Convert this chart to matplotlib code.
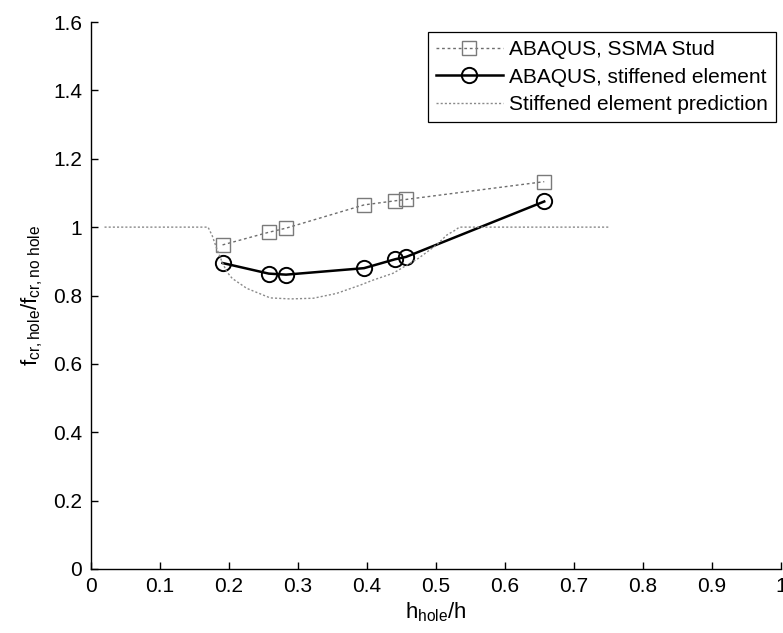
import matplotlib
matplotlib.use("Agg")
import matplotlib.pyplot as plt
from matplotlib.ticker import FuncFormatter

plt.rcParams['font.family'] = ['Liberation Sans', 'DejaVu Sans']
plt.rcParams['mathtext.fontset'] = 'custom'
plt.rcParams['mathtext.rm'] = 'Liberation Sans'
plt.rcParams['mathtext.it'] = 'Liberation Sans'

# Data
hole_ratio = [0.191, 0.258, 0.283, 0.396, 0.441, 0.457, 0.657]
ssma_stud = [0.948, 0.985, 0.997, 1.065, 1.077, 1.081, 1.133]
stiffened_element = [0.895, 0.864, 0.861, 0.880, 0.906, 0.913, 1.075]

pred_x = [0.02, 0.17, 0.176, 0.183, 0.19, 0.197, 0.205, 0.226, 0.26, 0.289,
          0.3225, 0.356, 0.39, 0.409, 0.438, 0.475, 0.501, 0.516, 0.528, 0.534, 0.75]
pred_y = [1.0, 1.0, 0.975, 0.935, 0.9, 0.87, 0.85, 0.821, 0.793, 0.79,
          0.792, 0.806, 0.83, 0.845, 0.865, 0.909, 0.948, 0.977, 0.991, 1.0, 1.0]

x_ticks = [0, 0.1, 0.2, 0.3, 0.4, 0.5, 0.6, 0.7, 0.8, 0.9, 1.0]
y_ticks = [0, 0.2, 0.4, 0.6, 0.8, 1.0, 1.2, 1.4, 1.6]

fig = plt.figure(figsize=(7.83, 6.33), dpi=100)
ax = fig.add_axes([90.7 / 783, 64 / 633, 690.3 / 783, 547 / 633])

ax.plot(hole_ratio, ssma_stud, color='#6e6e6e', linestyle=(0, (2, 2)), linewidth=1.0,
        marker='s', markersize=10, markerfacecolor='none', markeredgecolor='#7a7a7a',
        markeredgewidth=1.0, label='ABAQUS, SSMA Stud')
ax.plot(hole_ratio, stiffened_element, color='black', linestyle='-', linewidth=1.8,
        marker='o', markersize=11, markerfacecolor='none', markeredgecolor='black',
        markeredgewidth=1.4, label='ABAQUS, stiffened element')
ax.plot(pred_x, pred_y, color='#8a8a8a', linestyle=(0, (1.5, 1.5)), linewidth=1.0,
        label='Stiffened element prediction')

ax.set_xlim(0, 1)
ax.set_ylim(0, 1.6)
ax.set_xticks(x_ticks)
ax.set_yticks(y_ticks)
fmt = FuncFormatter(lambda v, p: '%g' % round(v, 3))
ax.xaxis.set_major_formatter(fmt)
ax.yaxis.set_major_formatter(fmt)

for s in ['top', 'right']:
    ax.spines[s].set_visible(False)
for s in ['left', 'bottom']:
    ax.spines[s].set_linewidth(1.0)
ax.tick_params(direction='in', length=5, width=1.0, labelsize=15, pad=6)

ax.set_xlabel(r'$\mathregular{h_{hole}/h}$', fontsize=16, labelpad=3)
ax.set_ylabel(r'$\mathregular{f_{cr,hole}/f_{cr,no\ hole}}$', fontsize=16, labelpad=6)

leg = ax.legend(loc='upper right', bbox_to_anchor=(0.993, 0.982), borderaxespad=0,
                fontsize=15, handlelength=3.2, handletextpad=0.3, labelspacing=0.4,
                fancybox=False, framealpha=1, edgecolor='black', borderpad=0.4)
leg.get_frame().set_linewidth(0.9)

fig.savefig('out.png', dpi=100)
